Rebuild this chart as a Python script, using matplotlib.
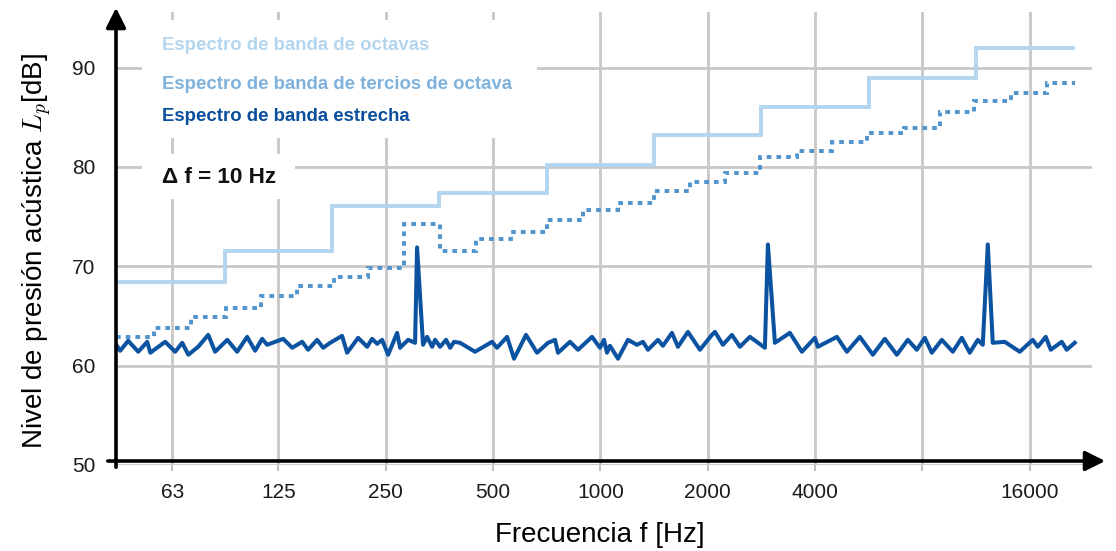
import numpy as np
import matplotlib
matplotlib.use("Agg")
import matplotlib.pyplot as plt
from matplotlib.patches import Rectangle

plt.rcParams['font.family'] = ['Liberation Sans', 'DejaVu Sans']
plt.rcParams['mathtext.fontset'] = 'cm'

# octave band spectrum
oct_centers = [63, 125, 250, 500, 1000, 2000, 4000, 8000, 16000]
oct_levels = [68.4, 71.5, 76.1, 77.4, 80.2, 83.2, 86.0, 89.0, 92.0]

# third-octave band spectrum
third_centers = [50, 63, 80, 100, 125, 160, 200, 250, 315, 400, 500, 630, 800,
                 1000, 1250, 1600, 2000, 2500, 3150, 4000, 5000, 6300, 8000,
                 10000, 12500, 16000, 20000]
third_levels = [62.9, 63.8, 64.9, 65.8, 67.0, 68.0, 68.9, 69.8, 74.3, 71.5, 72.7,
                73.5, 74.7, 75.7, 76.4, 77.6, 78.5, 79.4, 81.0, 81.6, 82.5, 83.4,
                83.9, 85.5, 86.6, 87.4, 88.5]

# narrow band spectrum (delta f = 10 Hz)
narrow_f = [43.9, 45.0, 47.4, 50.6, 53.6, 54.7, 57.6, 60.2, 64.2, 67.2, 69.9, 74.5,
            79.5, 83.1, 89.9, 95.8, 102.2, 107.6, 112.6, 116.3, 129.0, 136.7, 145.8,
            151.5, 160.6, 167.0, 174.7, 188.7, 194.9, 209.3, 221.8, 229.0, 236.6,
            244.3, 254.0, 269.2, 274.4, 289.0, 302.3, 306.2, 318.3, 326.7, 337.4,
            344.0, 355.3, 369.3, 379.0, 388.9, 404.2, 445.3, 496.9, 513.2, 547.5,
            572.8, 618.8, 664.4, 713.3, 746.3, 760.9, 822.1, 865.7, 947.6, 997.8,
            1023.9, 1043.9, 1064.3, 1120.7, 1195.4, 1266.9, 1316.9, 1360.1, 1450.7,
            1498.3, 1588.0, 1650.6, 1760.7, 1902.5, 2055.7, 2095.8, 2206.9, 2338.8,
            2462.9, 2627.1, 2893.9, 2950.6, 3087.0, 3400.7, 3674.8, 3996.1, 4074.2,
            4607, 4913, 5342, 5810, 6278, 6784, 7283, 7719, 8128, 8503, 9070, 9738,
            10321, 10867, 11443, 11818, 12206, 12606, 13621, 15005, 16319, 16855,
            17747, 18330, 19678, 20322, 21400]
narrow_l = [62.1, 61.5, 62.5, 61.4, 62.4, 61.3, 61.9, 62.4, 61.4, 62.3, 61.1, 61.9,
            63.1, 61.4, 62.6, 61.4, 62.9, 61.5, 62.7, 62.1, 62.7, 61.8, 62.4, 61.6,
            62.6, 61.8, 62.3, 63.0, 61.3, 62.8, 61.9, 62.7, 62.2, 62.6, 61.1, 63.3,
            61.8, 62.6, 62.3, 71.9, 62.1, 62.9, 61.9, 62.6, 61.9, 62.6, 61.8, 62.4,
            62.3, 61.4, 62.4, 61.8, 62.9, 60.7, 63.1, 61.3, 62.3, 62.6, 61.3, 62.4,
            61.6, 62.9, 61.8, 62.6, 61.3, 62.0, 60.7, 62.6, 62.1, 62.4, 61.6, 62.6,
            62.0, 63.3, 61.9, 63.4, 61.6, 63.1, 63.4, 62.1, 63.1, 61.9, 62.9, 61.8,
            72.2, 62.3, 63.3, 61.4, 62.8, 61.9, 62.9, 61.4, 62.9, 61.1, 62.7, 61.1,
            62.6, 61.6, 62.8, 61.3, 62.6, 61.4, 62.8, 61.3, 62.6, 62.1, 72.2, 62.3,
            62.4, 61.4, 62.6, 61.9, 62.9, 61.6, 62.4, 61.6, 62.3]

tick_freqs = [63, 125, 250, 500, 1000, 2000, 4000, 8000, 16000]
tick_labels = ['63', '125', '250', '500', '1000', '2000', '4000', '', '16000']

f_lo, f_hi = 43.9, 21500
W, H = 1116, 551

fig = plt.figure(figsize=(W / 100, H / 100), dpi=100)
ax = fig.add_axes([116 / W, (H - 465) / H, (1092 - 116) / W, 453 / H])
ax.set_xscale('log', base=2)
ax.set_xlim(43.82, 23925)
ax.set_ylim(50, 95.6)

def band_edges(centers, lo, hi):
    c = np.array(centers, dtype=float)
    return np.concatenate([[lo], np.sqrt(c[:-1] * c[1:]), [hi]])

ax.stairs(oct_levels, band_edges(oct_centers, f_lo, f_hi), baseline=None,
          color='#b4d5ee', lw=2.8, zorder=3)
ax.stairs(third_levels, band_edges(third_centers, f_lo, f_hi), baseline=None,
          color='#4f94cd', lw=2.8, ls=(0, (1.2, 1.3)), zorder=3)
ax.plot(narrow_f, narrow_l, color='#0b52a0', lw=2.9, zorder=4)

ax.set_xticks(tick_freqs)
ax.set_xticklabels(tick_labels)
ax.xaxis.set_minor_locator(matplotlib.ticker.NullLocator())
ax.set_yticks([50, 60, 70, 80, 90])
ax.tick_params(axis='x', length=4, width=1.5, color='#c0c0c0', pad=9,
               labelsize=15, labelcolor='#1a1a1a')
ax.tick_params(axis='y', length=0, pad=15, labelsize=15, labelcolor='#1a1a1a')
ax.grid(True, color='#c8c8c8', lw=2.0)
ax.set_axisbelow(True)
for s in ax.spines.values():
    s.set_visible(False)

# white boxes behind the legend texts
ax.add_patch(Rectangle((0.0266, 0.7216), 0.4044, 0.2604, transform=ax.transAxes,
                       facecolor='white', edgecolor='none', zorder=1))
ax.add_patch(Rectangle((0.0266, 0.588), 0.1564, 0.098, transform=ax.transAxes,
                       facecolor='white', edgecolor='none', zorder=1))

fig.text(162 / W, 1 - 50 / H, 'Espectro de banda de octavas', color='#b4d5ee',
         fontsize=13.4, fontweight='bold', va='baseline')
fig.text(162 / W, 1 - 89 / H, 'Espectro de banda de tercios de octava', color='#7eb2dc',
         fontsize=13.4, fontweight='bold', va='baseline')
fig.text(162 / W, 1 - 121 / H, 'Espectro de banda estrecha', color='#0b4f9c',
         fontsize=13.4, fontweight='bold', va='baseline')
fig.text(162 / W, 1 - 183 / H, '\u0394 f = 10 Hz', color='#111111',
         fontsize=16.2, fontweight='bold', va='baseline')

# axis arrows
fig.add_artist(matplotlib.patches.FancyArrowPatch(
    (116, H - 470), (116, H - 5), transform=None, arrowstyle='-|>,head_length=8,head_width=4',
    color='black', lw=2.6, mutation_scale=1.5))
fig.add_artist(matplotlib.patches.FancyArrowPatch(
    (105, H - 461), (1108, H - 461), transform=None, arrowstyle='-|>,head_length=8,head_width=4',
    color='black', lw=2.6, mutation_scale=1.5))

fig.text(600 / W, 1 - 535 / H, 'Frecuencia f [Hz]', fontsize=20, ha='center', va='center')
fig.text(37 / W, 1 - 251 / H, 'Nivel de presión acústica $L_p$[dB]', fontsize=20,
         rotation=90, ha='center', va='center')

fig.savefig('out.png', dpi=100)
